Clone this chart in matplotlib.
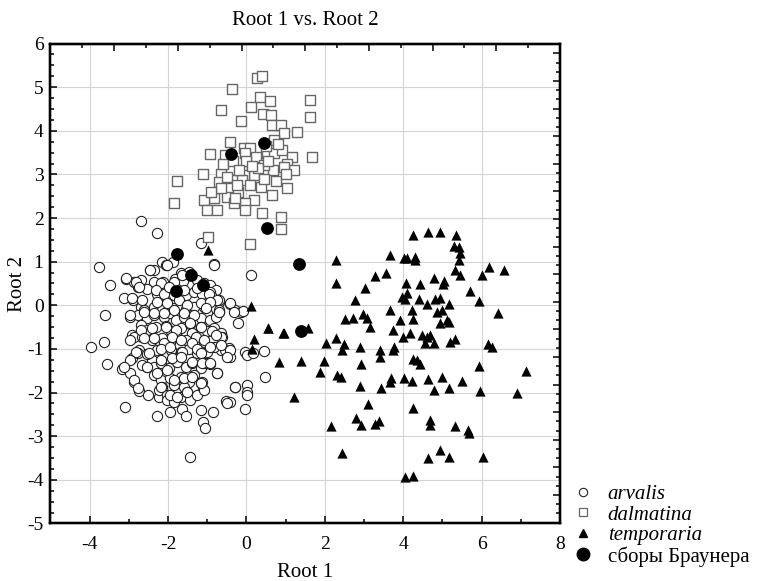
import numpy as np
import matplotlib
matplotlib.use("Agg")
import matplotlib.pyplot as plt
from matplotlib.lines import Line2D
from matplotlib.ticker import MultipleLocator

plt.rcParams['font.family'] = ['Liberation Serif', 'DejaVu Serif']
plt.rcParams['axes.unicode_minus'] = False

# Root 1 / Root 2 scores
arvalis_pts = [
    (-2.68, 1.94), (-2.28, 1.65), (-1.17, 1.42), (-3.75, 0.87), (-3.48, 0.47),
    (-3.08, 0.60), (-2.87, 0.54), (-2.68, 0.58), (-2.77, 0.41), (-3.13, 0.17),
    (-2.89, 0.12), (-3.61, -0.22), (-3.96, -0.96), (-3.64, -0.83), (-3.55, -1.35),
    (-3.17, -1.46), (-2.97, -1.54), (-3.11, -2.32), (-2.87, -1.75), (-2.74, -1.96),
    (-2.91, -1.21), (-2.74, -1.02), (-2.96, -0.26), (-2.91, -0.68), (-2.46, 0.82),
    (-2.36, 0.81), (-2.15, 1.00), (-2.05, 0.92), (-1.87, 1.00), (-0.82, 0.94),
    (0.12, 0.69), (-0.41, 0.03), (-0.28, -0.11), (-0.15, -0.15), (-0.22, -0.40),
    (-0.71, 0.08), (-0.71, -0.15), (-0.05, -1.06), (0.02, -1.14), (0.17, -1.10),
    (0.44, -1.04), (-0.45, -0.97), (-0.43, -1.18), (-0.71, -0.95), (-0.66, -1.02),
    (0.48, -1.64), (-0.28, -1.88), (0.02, -1.83), (0.02, -1.98), (0.02, -2.06),
    (-0.51, -2.19), (-0.05, -2.38), (-0.75, -1.54), (-1.17, -1.79), (-1.10, -1.92),
    (-1.17, -2.40), (-1.10, -2.67), (-1.07, -2.82), (-0.86, -2.44), (-1.43, -3.47),
    (-1.64, -2.38), (-1.53, -2.54), (-1.94, -2.44), (-2.29, -2.54), (-2.23, -2.09),
    (-2.53, -1.41), (-2.40, -1.25), (-0.41, -2.21), (-0.08, -0.12), (-1.68, 0.73),
    (-1.47, 0.77), (-2.50, -2.05),
    (-2.36, 0.54), (-2.12, 0.53), (-1.83, 0.60), (-1.61, 0.56), (-1.44, 0.69),
    (-1.26, 0.58), (-1.09, 0.50), (-0.92, 0.47), (-0.79, 0.35),
    (-2.53, 0.37), (-2.29, 0.27), (-2.06, 0.33), (-2.02, 0.16), (-1.85, 0.24),
    (-1.55, 0.24), (-1.34, 0.31), (-1.13, 0.27), (-0.92, 0.31), (-0.87, 0.18),
    (-0.71, 0.12),
    (-2.70, -0.03), (-2.62, -0.11), (-2.36, -0.03), (-2.15, -0.11), (-1.85, -0.07),
    (-1.68, 0.01), (-1.53, -0.09), (-1.34, -0.03), (-1.09, -0.03), (-1.00, -0.18),
    (-0.71, -0.11),
    (-2.78, -0.22), (-2.53, -0.28), (-2.36, -0.22), (-2.11, -0.26), (-1.94, -0.18),
    (-1.81, -0.34), (-1.60, -0.26), (-1.38, -0.22), (-1.17, -0.30), (-0.92, -0.34),
    (-0.79, -0.26),
    (-2.70, -0.45), (-2.53, -0.57), (-2.32, -0.49), (-2.06, -0.47), (-1.92, -0.60),
    (-1.68, -0.53), (-1.43, -0.43), (-1.38, -0.63), (-1.17, -0.49), (-1.00, -0.60),
    (-0.83, -0.53), (-0.66, -0.64),
    (-2.87, -0.72), (-2.66, -0.73), (-2.40, -0.80), (-2.15, -0.76), (-1.94, -0.83),
    (-1.77, -0.72), (-1.55, -0.80), (-1.30, -0.73), (-1.09, -0.83), (-0.87, -0.80),
    (-0.62, -0.72),
    (-2.78, -1.10), (-2.53, -1.12), (-2.28, -1.02), (-2.11, -1.14), (-1.92, -1.02),
    (-1.68, -1.06), (-1.47, -0.99), (-1.26, -1.10), (-1.00, -1.06), (-0.83, -0.95),
    (-0.54, -1.02),
    (-2.66, -1.37), (-2.36, -1.41), (-2.19, -1.33), (-1.98, -1.44), (-1.77, -1.29),
    (-1.55, -1.41), (-1.38, -1.33), (-1.17, -1.44), (-1.04, -1.33), (-0.94, -1.35),
    (-2.36, -1.60), (-2.19, -1.71), (-1.94, -1.67), (-1.68, -1.64), (-1.47, -1.75),
    (-1.34, -1.60), (-1.13, -1.75), (-2.15, -1.87), (-1.85, -1.83), (-1.60, -1.87),
    (-2.23, -1.94), (-2.02, -2.06), (-1.85, -2.13), (-1.68, -2.09), (-1.51, -1.98),
    (-1.43, -2.17), (-1.26, -2.06), (-1.09, -1.94), (-2.02, -2.17), (-1.85, -2.21),
    # second pass over the dense core
    (-2.45, 0.81), (-2.02, 0.92), (-1.64, 0.69), (-0.83, 0.92), (-3.08, 0.62),
    (-2.83, 0.54), (-2.74, 0.43), (-2.19, 0.50), (-1.85, 0.54), (-2.32, 0.35),
    (-2.11, 0.27), (-1.98, 0.43), (-1.60, 0.35), (-1.26, 0.39), (-0.96, 0.27),
    (-0.75, 0.12), (-0.41, 0.05), (-2.91, 0.16), (-2.66, 0.12), (-2.28, 0.08),
    (-2.02, 0.05), (-1.72, 0.12), (-1.51, 0.01), (-1.17, 0.05), (-0.92, 0.08),
    (-2.96, -0.22), (-2.62, -0.15), (-2.36, -0.18), (-2.11, -0.18), (-1.85, -0.11),
    (-1.60, -0.18), (-1.34, -0.22), (-1.04, -0.07), (-0.71, -0.15), (-0.32, -0.15),
    (-2.70, -0.57), (-2.40, -0.53), (-2.06, -0.49), (-1.81, -0.57), (-1.43, -0.41),
    (-1.17, -0.49), (-0.87, -0.60), (-0.66, -0.72), (-2.96, -0.80), (-2.62, -0.76),
    (-2.36, -0.76), (-2.11, -0.87), (-1.89, -0.72), (-1.68, -0.80), (-1.38, -0.87),
    (-1.09, -0.80), (-0.79, -0.68), (-2.83, -1.06), (-2.49, -1.10), (-2.19, -0.99),
    (-1.94, -0.95), (-1.64, -1.06), (-1.26, -0.99), (-0.92, -0.95), (-0.66, -0.91),
    (-0.41, -1.02), (-2.96, -1.25), (-2.53, -1.41), (-2.19, -1.25), (-1.89, -1.21),
    (-1.68, -1.18), (-1.38, -1.29), (-1.17, -1.10), (-1.09, -1.33), (-0.49, -1.18),
    (-3.13, -1.41), (-2.87, -1.71), (-2.28, -1.56), (-2.02, -1.48), (-1.85, -1.71),
    (-1.60, -1.67), (-1.38, -1.64), (-1.13, -1.33), (-0.92, -1.33), (-2.78, -1.90),
    (-2.19, -1.87), (-1.94, -2.06), (-1.77, -2.09), (-1.51, -1.98), (-1.17, -1.79),
    (-0.75, -1.56), (-0.49, -2.25), (-0.28, -1.87),
]

dalmatina_pts = [
    (0.27, 5.22), (0.40, 5.25), (-0.38, 4.96), (-0.66, 4.47), (-0.15, 4.22),
    (0.12, 4.54), (0.34, 4.77), (0.59, 4.69), (1.61, 4.70), (1.61, 4.31),
    (0.43, 4.38), (0.63, 4.36), (0.65, 4.13), (0.87, 4.13), (0.95, 3.94),
    (1.29, 3.98), (0.71, 3.80), (1.67, 3.39), (-0.43, 3.75), (-0.92, 3.47),
    (-0.56, 3.44), (-0.07, 3.60), (0.08, 3.60), (-0.03, 3.48), (0.25, 3.41),
    (0.53, 3.48), (0.70, 3.48), (0.91, 3.56), (1.16, 3.41), (1.04, 3.25),
    (1.21, 3.10), (0.95, 3.18), (0.68, 3.10), (0.44, 3.21), (0.19, 2.99),
    (-0.07, 2.99), (-0.32, 2.87), (-0.66, 3.02), (-1.11, 3.01), (-1.78, 2.86),
    (-0.71, 2.83), (-0.41, 2.68), (-0.22, 2.60), (-0.11, 2.87), (0.36, 2.72),
    (0.65, 2.53), (1.04, 2.68), (-0.83, 2.45), (-0.49, 2.49), (-1.85, 2.34),
    (0.19, 2.41), (-1.09, 2.41), (-0.32, 2.34), (-0.03, 2.34), (0.40, 2.11),
    (-1.00, 2.18), (-0.75, 2.18), (-0.03, 2.18), (0.87, 2.03), (0.89, 1.74),
    (-0.99, 1.56), (0.08, 1.40),
    (-0.60, 3.25), (-0.35, 3.30), (0.00, 3.30), (0.30, 3.15), (0.55, 3.30),
    (-0.20, 3.10), (-0.50, 2.95), (-0.65, 2.70), (0.10, 2.75), (0.45, 2.90),
    (0.75, 2.85), (-0.90, 2.60), (-0.30, 2.45), (0.80, 3.70), (0.50, 3.65),
    (1.00, 3.00), (0.15, 3.20), (-0.25, 2.75),
]

temporaria_pts = [
    (-0.99, 1.27), (0.12, -0.02), (0.55, -0.51), (0.95, -0.63), (0.19, -0.78),
    (0.15, -1.01), (0.83, -1.31), (1.21, -2.09),
    (2.29, 1.04), (3.67, 1.15), (4.01, 1.08), (4.09, 1.08), (4.31, 1.11),
    (4.31, 1.04), (2.29, 0.52), (3.29, 0.67), (3.57, 0.75), (3.03, 0.40),
    (4.08, 0.52), (4.43, 0.49), (2.78, 0.12), (3.97, 0.18), (4.05, 0.14),
    (4.09, 0.29), (4.41, 0.14), (4.60, 0.02), (3.67, -0.11), (4.22, -0.11),
    (2.52, -0.32), (2.72, -0.28), (2.97, -0.20), (3.07, -0.30), (3.14, -0.50),
    (3.92, -0.34), (4.26, -0.32), (3.75, -0.57), (3.99, -0.72), (4.18, -0.63),
    (4.48, -0.68), (4.60, -0.72), (0.55, -0.53), (0.94, -0.64), (1.56, -0.53),
    (2.04, -0.87), (2.29, -0.76), (2.48, -0.89), (2.45, -1.02), (2.90, -0.96),
    (3.41, -1.02), (3.41, -1.19), (3.75, -1.02), (3.77, -0.95), (1.39, -1.27),
    (1.97, -1.27), (1.87, -1.52), (2.31, -1.60), (2.42, -1.65), (2.93, -1.35),
    (4.26, -1.24), (4.35, -1.25), (4.43, -1.35), (2.90, -1.85), (3.44, -1.90),
    (3.69, -1.67), (3.65, -1.75), (4.01, -1.67), (4.22, -1.73), (4.64, -1.70),
    (3.09, -2.27), (4.25, -2.36), (2.16, -2.77), (2.80, -2.59), (2.93, -2.74),
    (3.29, -2.73), (3.39, -2.65), (4.67, -2.63), (4.69, -2.74), (2.45, -3.39),
    (4.64, -3.51), (4.05, -3.93), (4.25, -3.91),
    (5.30, 1.36), (5.41, 1.34), (5.44, 1.19), (5.41, 1.05), (5.32, 0.81),
    (5.44, 0.69), (6.00, 0.69), (6.20, 0.87), (6.57, 0.82), (4.79, 0.63),
    (5.04, 0.56), (5.01, 0.49), (5.71, 0.33), (5.92, 0.10), (4.81, 0.14),
    (4.94, 0.17), (5.18, 0.03), (4.87, -0.15), (4.99, -0.11), (6.43, -0.17),
    (4.94, -0.40), (5.11, -0.34), (5.18, -0.38), (4.69, -0.68), (4.56, -0.86),
    (4.79, -0.87), (5.20, -0.83), (5.32, -0.78), (6.17, -0.89), (6.26, -0.96),
    (5.92, -1.39), (7.13, -1.51), (4.99, -1.64), (5.50, -1.73), (4.79, -1.94),
    (5.18, -1.90), (5.96, -1.96), (6.90, -2.00), (5.32, -2.77), (5.66, -2.86),
    (5.69, -2.92), (4.94, -3.32), (5.18, -3.48), (6.03, -3.48),
    (4.25, 1.61), (4.64, 1.68), (4.94, 1.68), (5.35, 1.62),
]

brauner_pts = [
    (-0.39, 3.46), (0.44, 3.71), (0.53, 1.78), (1.33, 0.95), (1.39, -0.60),
    (-1.78, 1.18), (-1.41, 0.69), (-1.10, 0.47), (-1.79, 0.33),
]

labels = ['arvalis', 'dalmatina', 'temporaria', 'сборы Браунера']


def xy(pts):
    a = np.array(pts)
    return a[:, 0], a[:, 1]


fig = plt.figure(figsize=(7.57, 5.81), dpi=100)
ax = fig.add_axes([0.0667, 0.0990, 0.6731, 0.8261])

ax.grid(True, color='#d4d4d4', linewidth=0.8)
ax.set_axisbelow(True)

x, y = xy(arvalis_pts)
ax.scatter(x, y, s=54, marker='o', facecolor='white', edgecolor='#222222',
           linewidth=0.8, zorder=3)
x, y = xy(dalmatina_pts)
ax.scatter(x, y, s=48, marker='s', facecolor='white', edgecolor='#666666',
           linewidth=1.0, zorder=3)
x, y = xy(temporaria_pts)
ax.scatter(x, y, s=54, marker='^', color='black', linewidth=0, zorder=4)
x, y = xy(brauner_pts)
ax.scatter(x, y, s=85, marker='o', color='black', linewidth=0, zorder=5)

ax.set_xlim(-5, 8)
ax.set_ylim(-5, 6)
ax.xaxis.set_major_locator(MultipleLocator(2))
ax.xaxis.set_minor_locator(MultipleLocator(1))
ax.yaxis.set_major_locator(MultipleLocator(1))
ax.yaxis.set_minor_locator(MultipleLocator(0.25))
ax.tick_params(which='both', direction='in', width=1.1, labelsize=14,
               top=False, right=False)
ax.tick_params(which='major', length=5)
ax.tick_params(which='minor', length=3)
ax.tick_params(axis='x', pad=9)
ax.tick_params(axis='y', pad=5)
xt = ax.get_xticks()
ax.set_xticks([t for t in xt if -5 < t <= 8])
yt = ax.get_yticks()
ax.set_yticks([t for t in yt if -5 <= t <= 6])
for s in ax.spines.values():
    s.set_linewidth(1.6)

# top and right axes carry their own unlabeled tick scales
axt = ax.twiny()
axt.set_xlim(0, 8)
axt.xaxis.set_major_locator(MultipleLocator(1))
axt.xaxis.set_minor_locator(MultipleLocator(0.5))
axt.tick_params(which='both', direction='in', width=1.1, labeltop=False)
axt.tick_params(which='major', length=5)
axt.tick_params(which='minor', length=3)
axr = ax.twinx()
axr.set_ylim(-0.03, 17.36)
axr.yaxis.set_major_locator(MultipleLocator(1))
axr.yaxis.set_minor_locator(MultipleLocator(1 / 3))
axr.tick_params(which='both', direction='in', width=1.1, labelright=False)
axr.tick_params(which='major', length=5)
axr.tick_params(which='minor', length=3)
for a in (axt, axr):
    for s in a.spines.values():
        s.set_linewidth(1.6)

ax.set_title('Root 1 vs. Root 2', fontsize=15, pad=13)
ax.set_xlabel('Root 1', fontsize=15, labelpad=7)
ax.set_ylabel('Root 2', fontsize=15, labelpad=0)

handles = [
    Line2D([], [], linestyle='none', marker='o', markersize=6,
           markerfacecolor='white', markeredgecolor='#222222', markeredgewidth=0.8),
    Line2D([], [], linestyle='none', marker='s', markersize=6,
           markerfacecolor='white', markeredgecolor='#666666', markeredgewidth=0.9),
    Line2D([], [], linestyle='none', marker='^', markersize=6, color='black'),
    Line2D([], [], linestyle='none', marker='o', markersize=9, color='black'),
]
leg = fig.legend(handles, labels, loc='upper left',
                 bbox_to_anchor=(564 / 757, 1 - 476 / 581), frameon=False,
                 fontsize=15, handlelength=1.0, handletextpad=0.7,
                 labelspacing=0.05, borderaxespad=0)
for t in leg.get_texts()[:3]:
    t.set_fontstyle('italic')

fig.savefig('out.png', dpi=100)
